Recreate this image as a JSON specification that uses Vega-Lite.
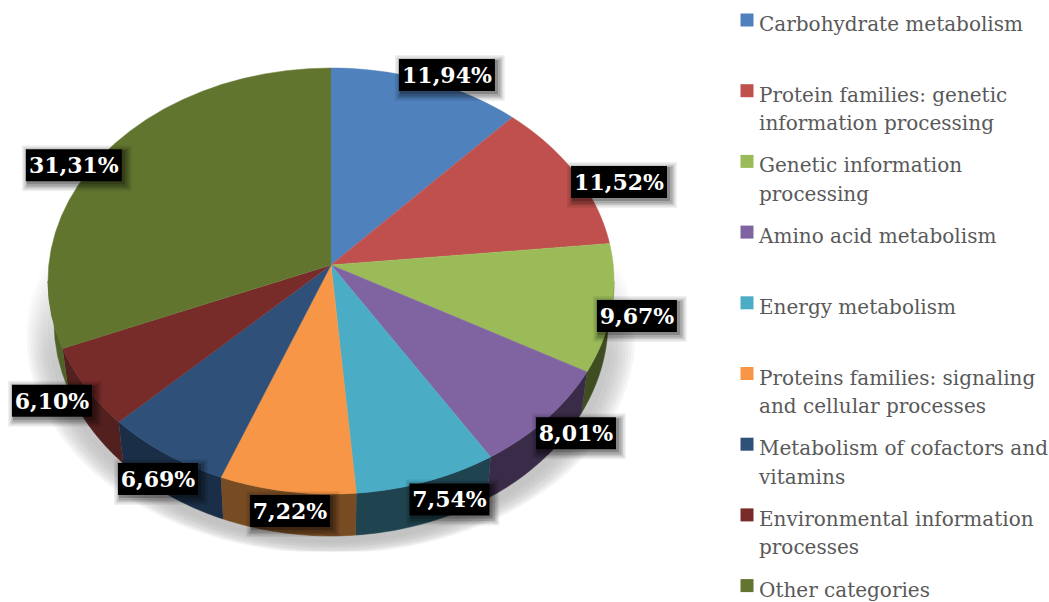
{
  "$schema": "https://vega.github.io/schema/vega-lite/v6.json",
  "width": 1049,
  "height": 602,
  "padding": 0,
  "autosize": {"type": "fit", "contains": "padding"},
  "background": "white",
  "view": {"stroke": null},
  "datasets": {
    "pathways": [
      {"category": "Carbohydrate metabolism", "rank": 1, "share": 11.94, "reachX": 1.209, "reachY": 1.028},
      {"category": "Protein families: genetic|information processing", "rank": 2, "share": 11.52, "reachX": 1.18, "reachY": 0.918},
      {"category": "Genetic information|processing", "rank": 3, "share": 9.67, "reachX": 1.09, "reachY": 1.282},
      {"category": "Amino acid metabolism", "rank": 4, "share": 8.01, "reachX": 1.136, "reachY": 1.103},
      {"category": "Energy metabolism", "rank": 5, "share": 7.54, "reachX": 1.238, "reachY": 1.09},
      {"category": "Proteins families: signaling|and cellular processes", "rank": 6, "share": 7.22, "reachX": 0.936, "reachY": 1.093},
      {"category": "Metabolism of cofactors and|vitamins", "rank": 7, "share": 6.69, "reachX": 1.045, "reachY": 1.146},
      {"category": "Environmental information|processes", "rank": 8, "share": 6.1, "reachX": 1.137, "reachY": 1.129},
      {"category": "Other categories", "rank": 9, "share": 31.31, "reachX": 1.145, "reachY": 0.894}
    ],
    "castShadow": [
      {"ring": 1, "rx": 1.075, "ry": 1.02, "cy": -0.26},
      {"ring": 2, "rx": 1.065, "ry": 1.02, "cy": -0.255},
      {"ring": 3, "rx": 1.055, "ry": 1.02, "cy": -0.25},
      {"ring": 4, "rx": 1.045, "ry": 1.015, "cy": -0.25},
      {"ring": 5, "rx": 1.035, "ry": 1.015, "cy": -0.24},
      {"ring": 6, "rx": 1.025, "ry": 1.01, "cy": -0.24},
      {"ring": 7, "rx": 1.015, "ry": 1.01, "cy": -0.23},
      {"ring": 8, "rx": 1, "ry": 1.01, "cy": -0.22}
    ]
  },
  "data": {"name": "pathways"},
  "transform": [
    {"stack": "share", "sort": [{"field": "rank", "order": "ascending"}], "as": ["c0", "c1"]},
    {"calculate": "datum.c0 * 3.6", "as": "t0"},
    {"calculate": "datum.c1 * 3.6", "as": "t1"},
    {"calculate": "datum.t0 - 4.6 * sin(datum.t0 * PI / 180)", "as": "p0"},
    {"calculate": "datum.t1 - 4.6 * sin(datum.t1 * PI / 180)", "as": "p1"}
  ],
  "layer": [
    {
      "data": {"name": "castShadow"},
      "transform": [
        {"calculate": "sequence(0, 121)", "as": "idx"},
        {"flatten": ["idx"]},
        {"calculate": "datum.idx * 3 * PI / 180", "as": "a"},
        {"calculate": "datum.rx * sin(datum.a)", "as": "px"},
        {"calculate": "max(datum.cy - datum.ry * cos(datum.a), -1.27)", "as": "py"}
      ],
      "mark": {
        "type": "line",
        "strokeWidth": 0,
        "opacity": 0.09,
        "fill": {
          "gradient": "linear", "x1": 0, "y1": 0, "x2": 0, "y2": 1,
          "stops": [
            {"offset": 0.3, "color": "#ffffff"},
            {"offset": 0.55, "color": "#9a9a9a"},
            {"offset": 1, "color": "#8c8c8c"}
          ]
        }
      },
      "encoding": {
        "x": {"field": "px", "type": "quantitative", "axis": null, "scale": {"domain": [-1.1696, 2.5371], "nice": false, "zero": false}},
        "y": {"field": "py", "type": "quantitative", "axis": null, "scale": {"domain": [-1.507, 1.3192], "nice": false, "zero": false}},
        "detail": {"field": "ring"},
        "order": {"field": "idx", "type": "quantitative"}
      }
    },
    {
      "transform": [
        {"filter": "datum.p1 > 90 && datum.p0 < 270"},
        {"calculate": "sequence(0, 50)", "as": "idx"},
        {"flatten": ["idx"]},
        {"calculate": "(datum.idx <= 24 ? datum.idx : 49 - datum.idx) / 24", "as": "f"},
        {"calculate": "clamp(datum.p0 + (datum.p1 - datum.p0) * datum.f, 90, 270) * PI / 180", "as": "a"},
        {"calculate": "(datum.idx <= 24 ? 1 : 0.979) * sin(datum.a)", "as": "px"},
        {"calculate": "datum.idx <= 24 ? cos(datum.a) : 1.009 * cos(datum.a) - 0.188", "as": "py"}
      ],
      "mark": {"type": "line", "strokeWidth": 0.5},
      "encoding": {
        "x": {"field": "px", "type": "quantitative", "axis": null, "scale": {"domain": [-1.1696, 2.5371], "nice": false, "zero": false}},
        "y": {"field": "py", "type": "quantitative", "axis": null, "scale": {"domain": [-1.507, 1.3192], "nice": false, "zero": false}},
        "fill": {"field": "rank", "type": "nominal", "legend": null, "scale": {"domain": [3, 4, 5, 6, 7, 8, 9], "range": ["#3f4e22", "#3a2b48", "#1f4450", "#774c23", "#1a2e47", "#52201f", "#4f6228"]}},
        "stroke": {"field": "rank", "type": "nominal", "legend": null, "scale": {"domain": [3, 4, 5, 6, 7, 8, 9], "range": ["#3f4e22", "#3a2b48", "#1f4450", "#774c23", "#1a2e47", "#52201f", "#4f6228"]}},
        "order": {"field": "idx", "type": "quantitative"}
      }
    },
    {
      "transform": [
        {"calculate": "sequence(-1, 25)", "as": "idx"},
        {"flatten": ["idx"]},
        {"calculate": "(datum.p0 + (datum.p1 - datum.p0) * datum.idx / 24) * PI / 180", "as": "a"},
        {"calculate": "datum.idx < 0 ? 0 : sin(datum.a)", "as": "px"},
        {"calculate": "datum.idx < 0 ? 0.075 : cos(datum.a)", "as": "py"}
      ],
      "mark": {"type": "line", "strokeWidth": 0.5},
      "encoding": {
        "x": {"field": "px", "type": "quantitative", "axis": null, "scale": {"domain": [-1.1696, 2.5371], "nice": false, "zero": false}},
        "y": {"field": "py", "type": "quantitative", "axis": null, "scale": {"domain": [-1.507, 1.3192], "nice": false, "zero": false}},
        "fill": {
          "field": "category",
          "type": "nominal",
          "scale": {
            "domain": ["Carbohydrate metabolism", "Protein families: genetic|information processing", "Genetic information|processing", "Amino acid metabolism", "Energy metabolism", "Proteins families: signaling|and cellular processes", "Metabolism of cofactors and|vitamins", "Environmental information|processes", "Other categories"],
            "range": ["#4f81bd", "#c0504d", "#9bbb59", "#8064a2", "#4bacc6", "#f79646", "#2f5078", "#772c2a", "#62752f"]
          },
          "legend": {
            "title": null,
            "orient": "none",
            "legendX": 737,
            "legendY": 10,
            "symbolType": "square",
            "symbolSize": 169,
            "symbolStrokeWidth": 0,
            "symbolOpacity": 1,
            "labelFont": "DejaVu Serif",
            "labelFontSize": 20,
            "labelColor": "#595959",
            "labelLimit": 400,
            "labelOffset": 2,
            "labelBaseline": "top",
            "labelExpr": "split(datum.label, '|')",
            "gridAlign": "all",
            "columns": 1,
            "rowPadding": 16.7,
            "encode": {"labels": {"update": {"lineHeight": {"value": 28.5}, "dy": {"value": -5}}}}
          }
        },
        "stroke": {
          "field": "category",
          "type": "nominal",
          "legend": null,
          "scale": {
            "domain": ["Carbohydrate metabolism", "Protein families: genetic|information processing", "Genetic information|processing", "Amino acid metabolism", "Energy metabolism", "Proteins families: signaling|and cellular processes", "Metabolism of cofactors and|vitamins", "Environmental information|processes", "Other categories"],
            "range": ["#4f81bd", "#c0504d", "#9bbb59", "#8064a2", "#4bacc6", "#f79646", "#2f5078", "#772c2a", "#62752f"]
          }
        },
        "order": {"field": "idx", "type": "quantitative"}
      }
    },
    {
      "transform": [
        {"calculate": "(datum.t0 + datum.t1) / 2", "as": "tm"},
        {"calculate": "(datum.tm - 4.6 * sin(datum.tm * PI / 180)) * PI / 180", "as": "a"},
        {"calculate": "datum.reachX * sin(datum.a)", "as": "lx"},
        {"calculate": "datum.reachY * cos(datum.a)", "as": "ly"},
        {"calculate": "replace(format(datum.share, '.2f'), '.', ',') + '%'", "as": "labelText"}
      ],
      "encoding": {
        "x": {"field": "lx", "type": "quantitative", "axis": null},
        "y": {"field": "ly", "type": "quantitative", "axis": null}
      },
      "layer": [
        {
          "mark": {"type": "tick", "orient": "horizontal", "thickness": 46, "color": "#000000", "opacity": 0.06, "xOffset": 3, "yOffset": 3},
          "encoding": {"size": {"condition": {"test": "datum.share >= 10", "value": 110}, "value": 94}}
        },
        {
          "mark": {"type": "tick", "orient": "horizontal", "thickness": 43, "color": "#000000", "opacity": 0.08, "xOffset": 3, "yOffset": 3},
          "encoding": {"size": {"condition": {"test": "datum.share >= 10", "value": 107}, "value": 91}}
        },
        {
          "mark": {"type": "tick", "orient": "horizontal", "thickness": 40, "color": "#000000", "opacity": 0.1, "xOffset": 3, "yOffset": 3},
          "encoding": {"size": {"condition": {"test": "datum.share >= 10", "value": 104}, "value": 88}}
        },
        {
          "mark": {"type": "tick", "orient": "horizontal", "thickness": 37, "color": "#000000", "opacity": 0.14, "xOffset": 3, "yOffset": 3},
          "encoding": {"size": {"condition": {"test": "datum.share >= 10", "value": 101}, "value": 85}}
        },
        {
          "mark": {"type": "tick", "orient": "horizontal", "thickness": 34, "color": "#000000", "opacity": 0.2, "xOffset": 2, "yOffset": 2},
          "encoding": {"size": {"condition": {"test": "datum.share >= 10", "value": 98}, "value": 82}}
        },
        {
          "mark": {"type": "tick", "orient": "horizontal", "thickness": 32, "color": "#000000", "opacity": 1},
          "encoding": {"size": {"condition": {"test": "datum.share >= 10", "value": 96}, "value": 80}}
        },
        {
          "mark": {"type": "text", "font": "DejaVu Serif", "fontWeight": "bold", "fontSize": 22, "color": "#ffffff", "align": "center", "baseline": "middle", "dy": 1},
          "encoding": {"text": {"field": "labelText"}}
        }
      ]
    }
  ],
  "resolve": {"scale": {"fill": "independent", "stroke": "independent"}}
}
